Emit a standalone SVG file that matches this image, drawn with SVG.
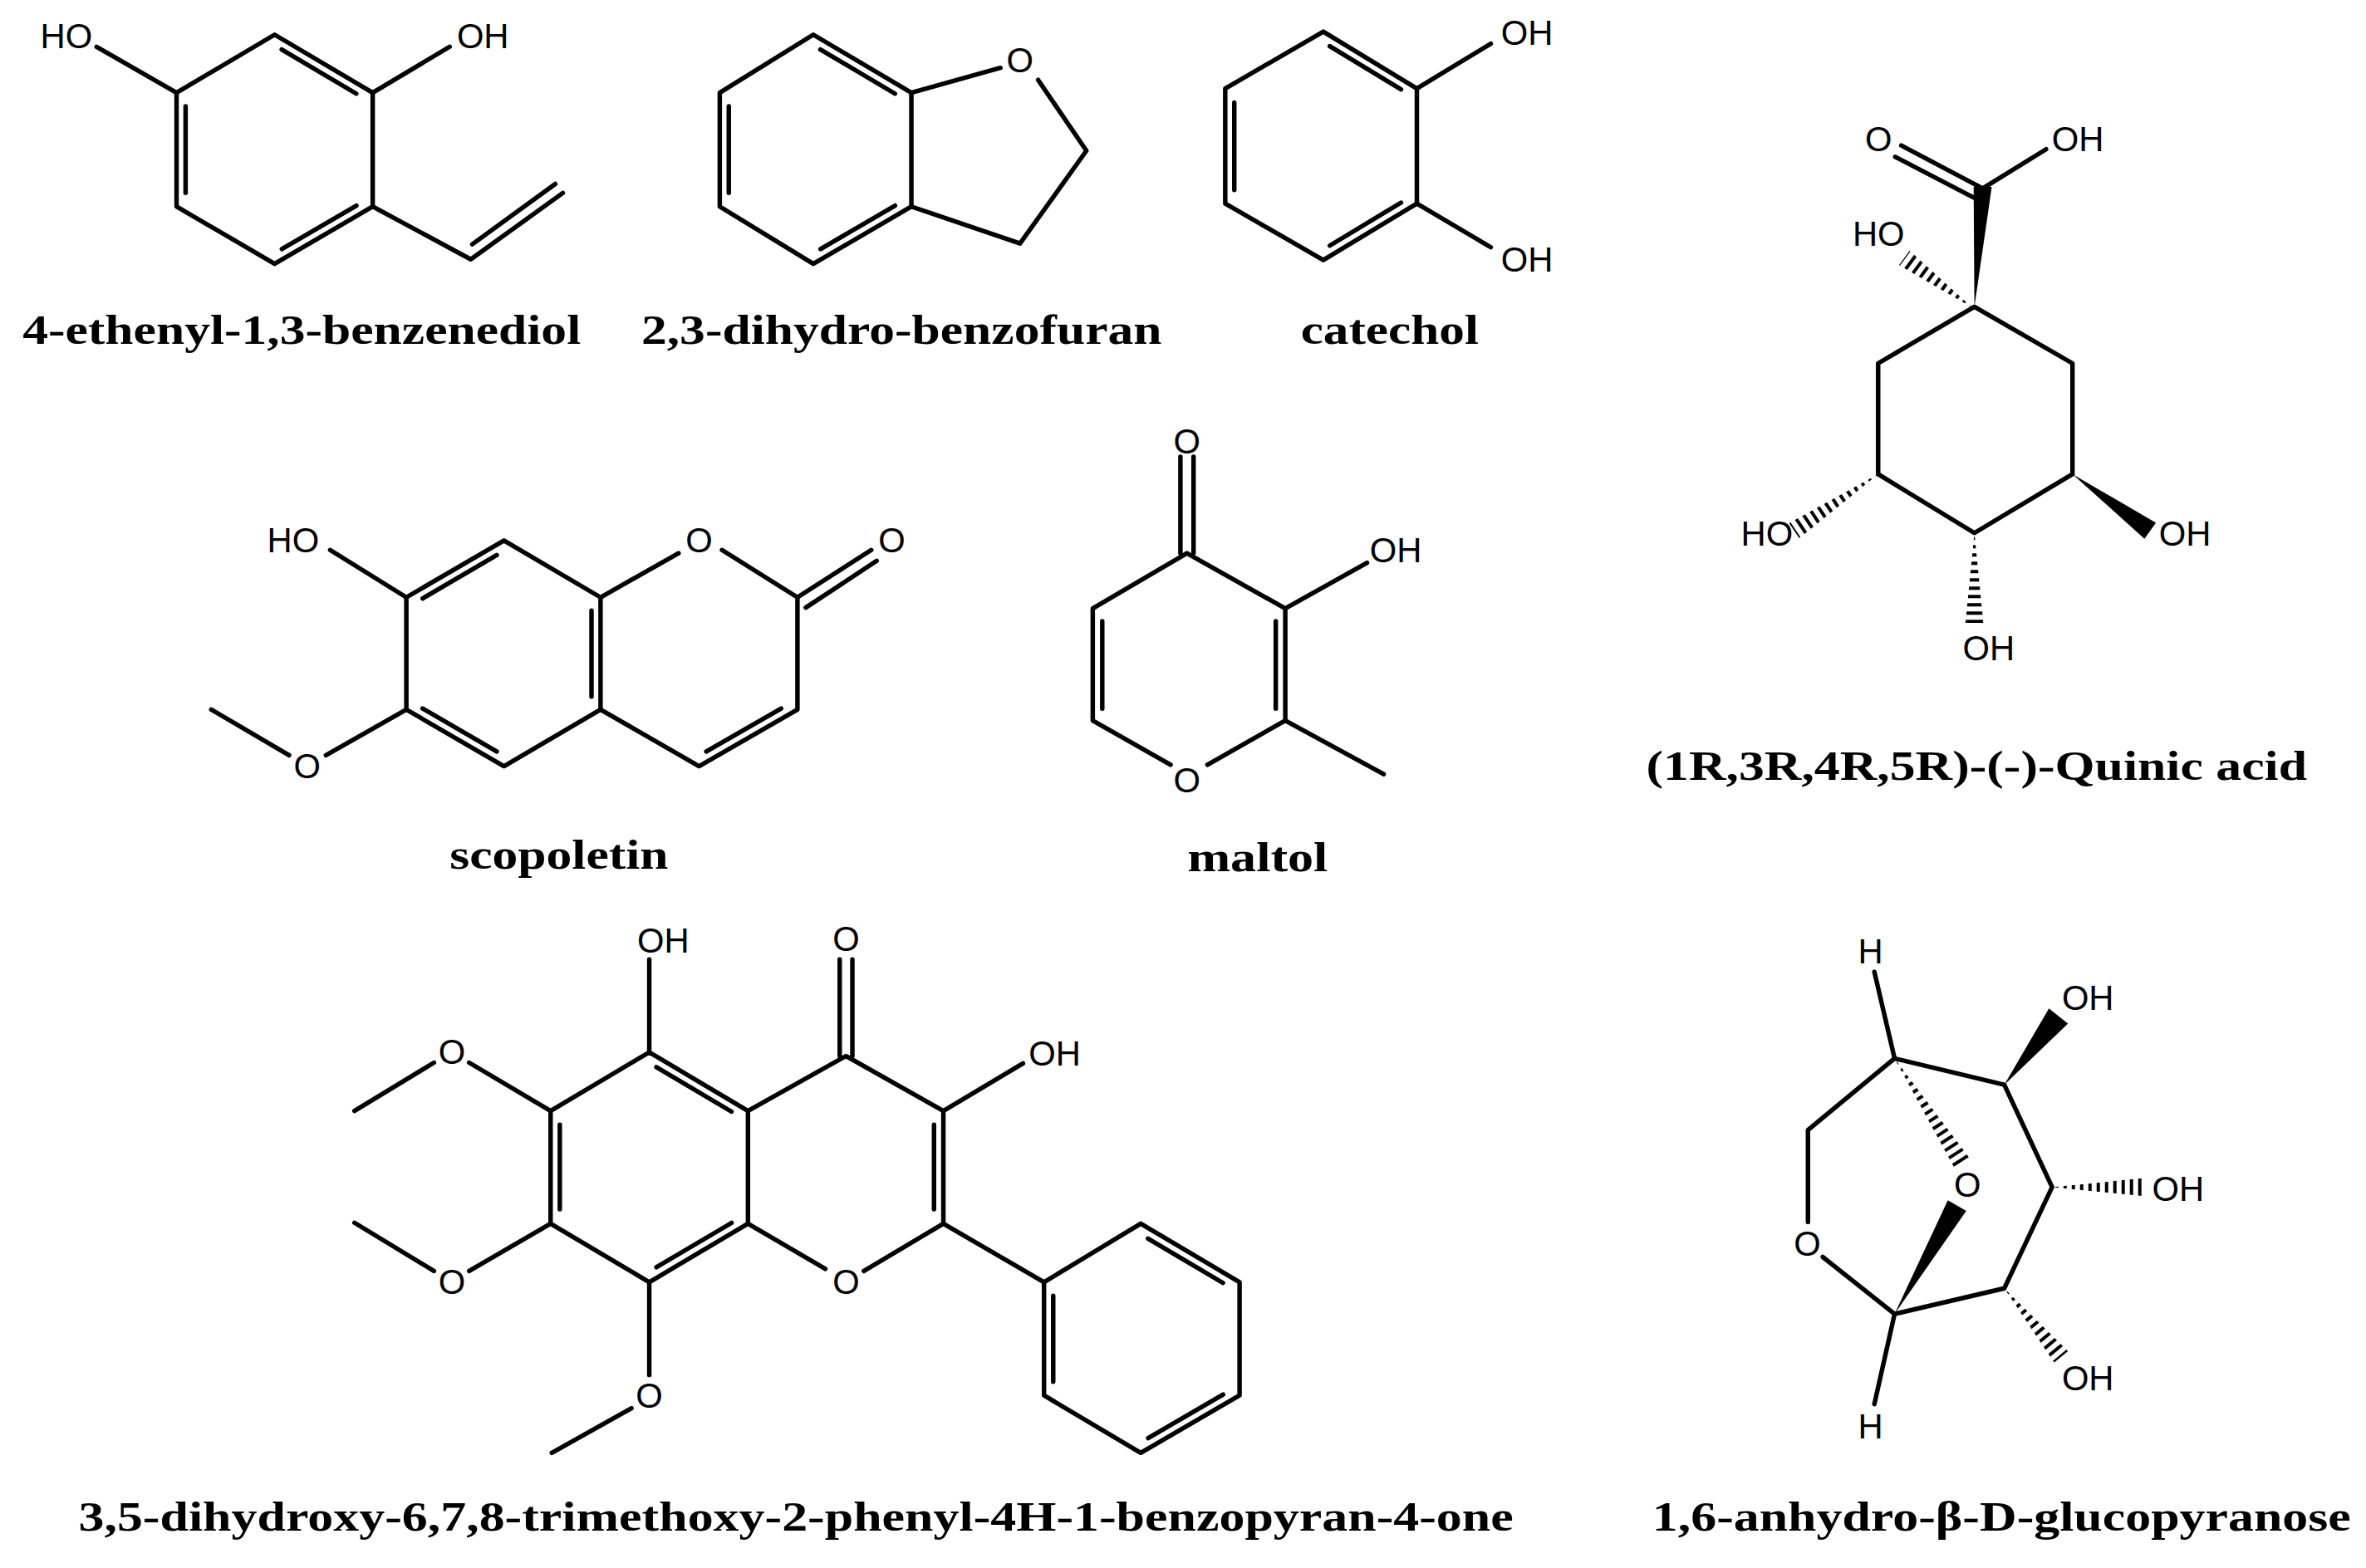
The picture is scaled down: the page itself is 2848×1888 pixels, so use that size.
<svg xmlns="http://www.w3.org/2000/svg" width="2848" height="1888" viewBox="0 0 2848 1888">
<style>
.b{fill:none;stroke:#000;stroke-width:3;stroke-linejoin:round;stroke-linecap:round}
.a{font-family:"Liberation Sans",Arial,sans-serif;font-size:23px;fill:#000;text-anchor:middle;dominant-baseline:central}
.n{font-family:"Liberation Serif","Times New Roman",serif;font-size:28px;font-weight:bold;fill:#000}
.h{fill:none;stroke:#000;stroke-dasharray:2.2 3.3}
.w{fill:#000}
</style>
<defs>
<clipPath id="c1"><polygon points="1307,204 1265.5,166.2 1258.5,175.8"/></clipPath>
<clipPath id="c2"><polygon points="1244.7,314.5 1192.4,357 1185.6,347"/></clipPath>
<clipPath id="c3"><polygon points="1308.5,353.5 1302.5,414 1314.5,414"/></clipPath>
<clipPath id="c4"><polygon points="1360,787.4 1421,781.4 1421,793.4"/></clipPath>
<clipPath id="c5"><polygon points="1328.3,854.5 1370.6,896.2 1361.4,903.8"/></clipPath>
<clipPath id="c6"><polygon points="1255.6,702 1305,767.8 1295,774.2"/></clipPath>
</defs>
<rect width="2848" height="1888" fill="#fff"/>
<g transform="scale(1.8163 1.8154)">
<g id="ethenylbenzenediol">
<polygon class="b" points="182,23 247,61.5 247,137 182,175 117,137 117,61.5"/>
<line class="b" x1="186.7" y1="32.8" x2="236.1" y2="62.1"/>
<line class="b" x1="123" y1="70.5" x2="123" y2="128"/>
<line class="b" x1="186.8" y1="165.2" x2="236.2" y2="136.4"/>
<line class="b" x1="117" y1="61.5" x2="64" y2="31"/>
<line class="b" x1="247" y1="61.5" x2="298" y2="31"/>
<polyline class="b" points="247,137 312,172 373,128"/>
<line class="b" x1="313" y1="162" x2="368" y2="122"/>
<text class="a" x="44" y="24">HO</text>
<text class="a" x="320" y="24">OH</text>
<text class="n" x="15" y="228" textLength="370" lengthAdjust="spacingAndGlyphs">4-ethenyl-1,3-benzenediol</text>
</g>
<g id="dihydrobenzofuran">
<polygon class="b" points="539,23 604,61.5 604,137 539,175 477,137 477,61.5"/>
<line class="b" x1="543.7" y1="32.8" x2="593.1" y2="62.1"/>
<line class="b" x1="483" y1="70.5" x2="483" y2="128"/>
<line class="b" x1="543.8" y1="165.2" x2="593.2" y2="136.4"/>
<line class="b" x1="604" y1="61.5" x2="663" y2="45"/>
<polyline class="b" points="688,53 720,100 676,161.5 604,137"/>
<text class="a" x="676" y="40">O</text>
<text class="n" x="425" y="228" textLength="345" lengthAdjust="spacingAndGlyphs">2,3-dihydro-benzofuran</text>
</g>
<g id="catechol">
<polygon class="b" points="877,21 939,58.7 939,135 877,172.5 812,135 812,58.7"/>
<line class="b" x1="881.3" y1="30.6" x2="928.5" y2="59.3"/>
<line class="b" x1="818" y1="68" x2="818" y2="126"/>
<line class="b" x1="881.3" y1="162.9" x2="928.5" y2="134.4"/>
<line class="b" x1="939" y1="58.7" x2="988" y2="29"/>
<line class="b" x1="939" y1="135" x2="988" y2="164"/>
<text class="a" x="1012" y="22">OH</text>
<text class="a" x="1012" y="172">OH</text>
<text class="n" x="862" y="228" textLength="118" lengthAdjust="spacingAndGlyphs">catechol</text>
</g>
<g id="quinic-acid">
<polygon class="b" points="1308.5,203.5 1373.5,241 1373.5,314.5 1308.5,353.5 1244.7,314.5 1244.7,241"/>
<polygon class="w" points="1308.5,203.5 1308,124 1320,124"/>
<line class="b" x1="1260" y1="96.5" x2="1314" y2="125"/>
<line class="b" x1="1256" y1="104" x2="1308" y2="131"/>
<line class="b" x1="1314" y1="125" x2="1356" y2="99"/>
<line class="h" x1="1307" y1="204" x2="1262" y2="171" stroke-width="12" clip-path="url(#c1)"/>
<line class="h" x1="1244.7" y1="314.5" x2="1189" y2="352" stroke-width="12" clip-path="url(#c2)"/>
<line class="h" x1="1308.5" y1="356" x2="1308.5" y2="414" stroke-width="12" clip-path="url(#c3)"/>
<polygon class="w" points="1373.5,314.5 1428.8,346.7 1421.2,357.3"/>
<text class="a" x="1245" y="92.5">O</text>
<text class="a" x="1377" y="92.5">OH</text>
<text class="a" x="1245" y="155">HO</text>
<text class="a" x="1171" y="354">HO</text>
<text class="a" x="1448" y="354">OH</text>
<text class="a" x="1318" y="430">OH</text>
<text class="n" x="1091" y="517" textLength="438" lengthAdjust="spacingAndGlyphs">(1R,3R,4R,5R)-(-)-Quinic acid</text>
</g>
<g id="scopoletin">
<polyline class="b" points="269.3,396.2 334,358.5 398,396.2 398,470.6 334,508.2 269.3,470.6 269.3,396.2"/>
<line class="b" x1="280.1" y1="396.9" x2="329.2" y2="368.2"/>
<line class="b" x1="392" y1="405" x2="392" y2="462"/>
<line class="b" x1="280.1" y1="469.9" x2="329.2" y2="498.5"/>
<line class="b" x1="398" y1="396.2" x2="449.7" y2="366.9"/>
<polyline class="b" points="478.5,364.8 528.5,396.2 528.5,470.6 463.3,508.2 398,470.6"/>
<line class="b" x1="517.7" y1="469.9" x2="468.1" y2="498.5"/>
<line class="b" x1="528.5" y1="396.2" x2="577.4" y2="364.8"/>
<line class="b" x1="534" y1="403" x2="581" y2="372"/>
<line class="b" x1="269.3" y1="396.2" x2="218.8" y2="364.8"/>
<line class="b" x1="269.3" y1="470.6" x2="216" y2="500.9"/>
<line class="b" x1="191.6" y1="500.9" x2="140" y2="470.6"/>
<text class="a" x="194.3" y="358.5">HO</text>
<text class="a" x="463.3" y="358.5">O</text>
<text class="a" x="591" y="358.5">O</text>
<text class="a" x="203.6" y="508.2">O</text>
<text class="n" x="298" y="576" textLength="145" lengthAdjust="spacingAndGlyphs">scopoletin</text>
</g>
<g id="maltol">
<polyline class="b" points="775.8,507.2 724.2,477.9 724.2,403.6 786.6,366.9 851.8,403.6 851.8,477.9 800.2,507.2"/>
<line class="b" x1="730.5" y1="412" x2="730.5" y2="470"/>
<line class="b" x1="845.5" y1="412" x2="845.5" y2="470"/>
<line class="b" x1="782.3" y1="303" x2="782.3" y2="366.9"/>
<line class="b" x1="791" y1="303" x2="791" y2="366.9"/>
<line class="b" x1="851.8" y1="403.6" x2="906" y2="373.2"/>
<line class="b" x1="851.8" y1="477.9" x2="917" y2="513.5"/>
<text class="a" x="786.6" y="292.6">O</text>
<text class="a" x="925" y="365">OH</text>
<text class="a" x="786.6" y="517.7">O</text>
<text class="n" x="787" y="578" textLength="93" lengthAdjust="spacingAndGlyphs">maltol</text>
</g>
<g id="flavone">
<polygon class="b" points="430.3,697.9 495.7,736.8 495.7,811.6 430.3,850.4 364.9,811.6 364.9,736.8"/>
<line class="b" x1="435" y1="707.8" x2="484.8" y2="737.3"/>
<line class="b" x1="371" y1="746" x2="371" y2="802"/>
<line class="b" x1="435" y1="840.5" x2="484.8" y2="811.1"/>
<polyline class="b" points="495.7,736.8 560.7,700.4 625.2,736.8 625.2,811.6 572.5,843"/>
<line class="b" x1="495.7" y1="811.6" x2="547" y2="841.6"/>
<line class="b" x1="619" y1="746" x2="619" y2="802"/>
<line class="b" x1="556.5" y1="636.4" x2="556.5" y2="700.4"/>
<line class="b" x1="564.9" y1="636.4" x2="564.9" y2="700.4"/>
<line class="b" x1="430.3" y1="697.9" x2="430.3" y2="636.4"/>
<line class="b" x1="625.2" y1="736.8" x2="678" y2="705.3"/>
<line class="b" x1="430.3" y1="850.4" x2="430.3" y2="912"/>
<line class="b" x1="418.5" y1="934" x2="365.7" y2="963.6"/>
<line class="b" x1="364.9" y1="811.6" x2="310.9" y2="843"/>
<line class="b" x1="287.6" y1="843" x2="234.9" y2="811"/>
<line class="b" x1="364.9" y1="736.8" x2="310.9" y2="704.8"/>
<line class="b" x1="287.6" y1="704.8" x2="234.9" y2="736.8"/>
<line class="b" x1="625.2" y1="811.6" x2="691.9" y2="850.4"/>
<polygon class="b" points="691.9,850.4 756,811.6 821.5,850.4 821.5,925.5 756,963.6 691.9,925.5"/>
<line class="b" x1="760.8" y1="821.5" x2="810.5" y2="850.9"/>
<line class="b" x1="810.6" y1="924.9" x2="760.9" y2="953.8"/>
<line class="b" x1="698" y1="859.5" x2="698" y2="916.5"/>
<text class="a" x="439.6" y="624">OH</text>
<text class="a" x="560.7" y="623">O</text>
<text class="a" x="699" y="699">OH</text>
<text class="a" x="560.7" y="850.4">O</text>
<text class="a" x="299.5" y="697.9">O</text>
<text class="a" x="299.5" y="850.4">O</text>
<text class="a" x="430.3" y="925.5">O</text>
<text class="n" x="52" y="1015" textLength="951" lengthAdjust="spacingAndGlyphs">3,5-dihydroxy-6,7,8-trimethoxy-2-phenyl-4H-1-benzopyran-4-one</text>
</g>
<g id="anhydroglucopyranose">
<polyline class="b" points="1242.2,644.6 1255.6,702 1328.3,719.5 1360,787.4 1328.3,854.5 1255.6,871.5 1242.2,931.3"/>
<polyline class="b" points="1255.6,702 1198.2,749.5 1198.2,810.5"/>
<line class="b" x1="1208" y1="833.7" x2="1255.6" y2="871.5"/>
<polygon class="w" points="1328.3,719.5 1370.5,678.9 1357.9,668.9"/>
<polygon class="w" points="1255.6,871.5 1303.1,803.1 1290.9,796.1"/>
<line class="h" x1="1362" y1="787.4" x2="1421" y2="787.4" stroke-width="12" clip-path="url(#c4)"/>
<line class="h" x1="1330" y1="856.5" x2="1366" y2="900" stroke-width="12" clip-path="url(#c5)"/>
<line class="h" x1="1257" y1="704" x2="1300" y2="771" stroke-width="12" clip-path="url(#c6)"/>
<text class="a" x="1239.7" y="631">H</text>
<text class="a" x="1383.7" y="662">OH</text>
<text class="a" x="1443.5" y="788.6">OH</text>
<text class="a" x="1383.7" y="914">OH</text>
<text class="a" x="1239.7" y="946">H</text>
<text class="a" x="1197.8" y="825">O</text>
<text class="a" x="1303.9" y="786">O</text>
<text class="n" x="1095" y="1015" textLength="463" lengthAdjust="spacingAndGlyphs">1,6-anhydro-β-D-glucopyranose</text>
</g>
</g>
</svg>
